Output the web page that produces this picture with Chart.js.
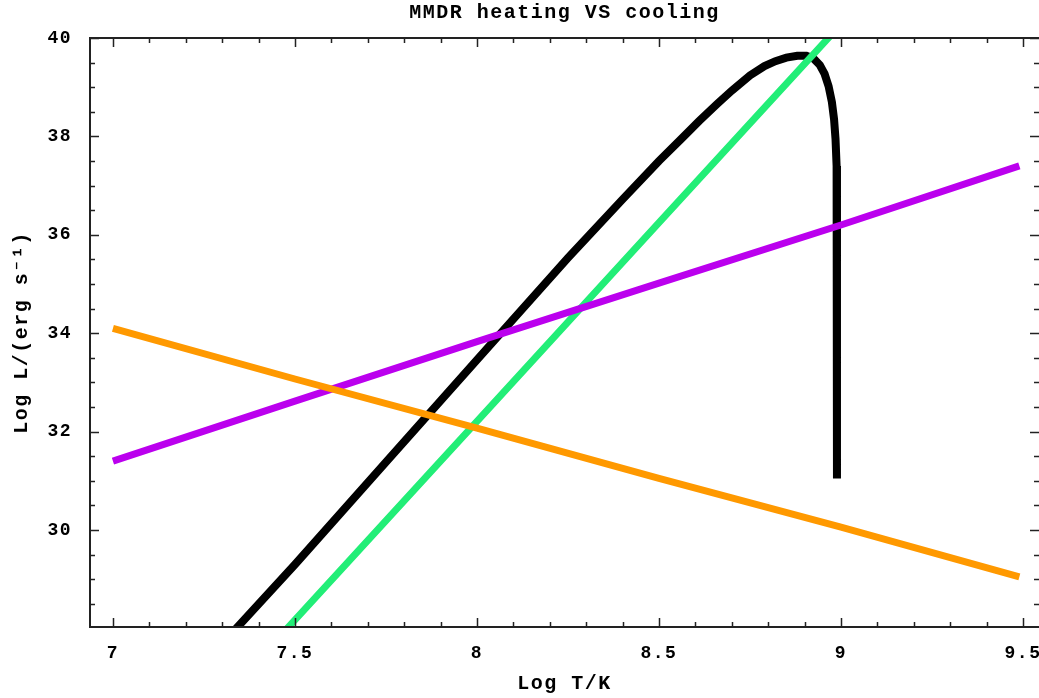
<!DOCTYPE html>
<html>
<head>
<meta charset="utf-8">
<title>MMDR heating VS cooling</title>
<script src="https://cdn.jsdelivr.net/npm/chart.js@4.4.1/dist/chart.umd.min.js"></script>
<style>
  html, body { margin: 0; padding: 0; background: #fff; }
  canvas { display: block; }
</style>
</head>
<body>
<canvas id="plot" width="1039" height="698"></canvas>
<script>
  // curves (Log T, Log L)
  const orangeT = [7.0, 7.5, 8.0, 8.5, 9.0, 9.49];
  const orangeL = [34.1, 33.07, 32.07, 31.05, 30.06, 29.05];

  const purpleT = [7.0, 7.5, 8.0, 8.5, 9.0, 9.49];
  const purpleL = [31.4, 32.62, 33.83, 35.02, 36.2, 37.4];

  const greenT = [7.45, 8.0, 8.5, 9.0];
  const greenL = [27.77, 32.21, 36.25, 40.28];

  const blackT = [7.32, 7.5, 7.75, 8.0, 8.25, 8.4, 8.5, 8.56, 8.61, 8.66, 8.7, 8.75, 8.79, 8.82, 8.85, 8.88, 8.905, 8.925, 8.942, 8.955, 8.966, 8.975, 8.981, 8.985, 8.988, 8.989, 8.989];
  const blackL = [27.85, 29.3, 31.38, 33.46, 35.53, 36.72, 37.5, 37.94, 38.31, 38.66, 38.93, 39.24, 39.43, 39.53, 39.6, 39.64, 39.64, 39.58, 39.45, 39.27, 39.02, 38.7, 38.35, 37.95, 37.4, 36.6, 31.05];

  const xTicks = [7, 7.5, 8, 8.5, 9, 9.5];
  const xTickLabels = ['7', '7.5', '8', '8.5', '9', '9.5'];
  const yTicks = [30, 32, 34, 36, 38, 40];
  const yTickLabels = ['30', '32', '34', '36', '38', '40'];

  const pts = (t, l) => t.map((v, i) => ({ x: v, y: l[i] }));
  const font = 'Liberation Mono, DejaVu Sans Mono, monospace';

  function line(label, t, l, color, w) {
    return {
      label: label,
      data: pts(t, l),
      showLine: true,
      borderColor: color,
      backgroundColor: color,
      borderWidth: w,
      pointRadius: 0,
      tension: 0,
      clip: 0
    };
  }

  // wider glyphs, the original uses a broad courier
  const spacing = {
    id: 'spacing',
    beforeLayout(chart) { chart.ctx.letterSpacing = '1.5px'; },
    beforeDraw(chart) { chart.ctx.letterSpacing = '1.5px'; }
  };

  // box round the plot with inward ticks on all four sides
  const frameTicks = {
    id: 'frameTicks',
    afterDatasetsDraw(chart) {
      const { ctx, chartArea: a, scales: { x, y } } = chart;
      ctx.save();
      ctx.strokeStyle = '#222';
      ctx.lineWidth = 1.5;
      ctx.beginPath();
      for (let i = 0; i <= 25; i++) {
        const v = 7 + i * 0.1;
        const px = Math.round(x.getPixelForValue(v)) + 0.5;
        const len = i % 5 === 0 ? 9 : 5;
        ctx.moveTo(px, a.bottom); ctx.lineTo(px, a.bottom - len);
        ctx.moveTo(px, a.top); ctx.lineTo(px, a.top + len);
      }
      for (let i = 1; i <= 24; i++) {
        const v = 28 + i * 0.5;
        const py = Math.round(y.getPixelForValue(v)) + 0.5;
        const len = i % 4 === 0 ? 9 : 5;
        ctx.moveTo(a.left, py); ctx.lineTo(a.left + len, py);
        ctx.moveTo(a.right, py); ctx.lineTo(a.right - len, py);
      }
      ctx.stroke();
      ctx.lineWidth = 2;
      ctx.strokeRect(a.left, a.top, a.right - a.left + 2, a.bottom - a.top);
      ctx.restore();
    }
  };

  new Chart(document.getElementById('plot'), {
    type: 'scatter',
    data: {
      datasets: [
        line('orange', orangeT, orangeL, '#ff9900', 7),
        line('purple', purpleT, purpleL, '#bb00ee', 7),
        line('green', greenT, greenL, '#22ee77', 7),
        line('black', blackT, blackL, '#000000', 8)
      ]
    },
    options: {
      responsive: false,
      animation: false,
      devicePixelRatio: 1,
      layout: { padding: 0 },
      plugins: {
        legend: { display: false },
        tooltip: { enabled: false },
        title: {
          display: true,
          fullSize: false,
          text: 'MMDR heating VS cooling',
          color: '#000',
          font: { family: font, size: 20, weight: 'bold', lineHeight: 1.2 },
          padding: { top: 1, bottom: 13 }
        }
      },
      scales: {
        x: {
          type: 'linear',
          min: 6.937,
          max: 9.544,
          grid: { display: false },
          border: { display: false },
          afterBuildTicks: s => { s.ticks = xTicks.map(v => ({ value: v })); },
          afterFit: s => { s.height = 71; s.paddingLeft = 0; s.paddingRight = 0; },
          ticks: {
            color: '#000',
            padding: 8,
            font: { family: font, size: 18, weight: 'bold' },
            callback: (v) => xTickLabels[xTicks.indexOf(v)]
          },
          title: {
            display: true,
            text: 'Log T/K',
            color: '#000',
            font: { family: font, size: 20, weight: 'bold', lineHeight: 1.2 },
            padding: { top: 0, bottom: 2 }
          }
        },
        y: {
          type: 'linear',
          min: 28.03,
          max: 40,
          grid: { display: false },
          border: { display: false },
          afterBuildTicks: s => { s.ticks = yTicks.map(v => ({ value: v })); },
          afterFit: s => { s.width = 90; s.paddingTop = 0; s.paddingBottom = 0; },
          ticks: {
            color: '#000',
            padding: 10,
            font: { family: font, size: 18, weight: 'bold' },
            callback: (v) => yTickLabels[yTicks.indexOf(v)]
          },
          title: {
            display: true,
            text: 'Log L/(erg s\u207B\u00B9)',
            color: '#000',
            font: { family: font, size: 20, weight: 'bold', lineHeight: 1.2 },
            padding: { top: 10, bottom: 0 }
          }
        }
      }
    },
    plugins: [spacing, frameTicks]
  });
</script>
</body>
</html>
